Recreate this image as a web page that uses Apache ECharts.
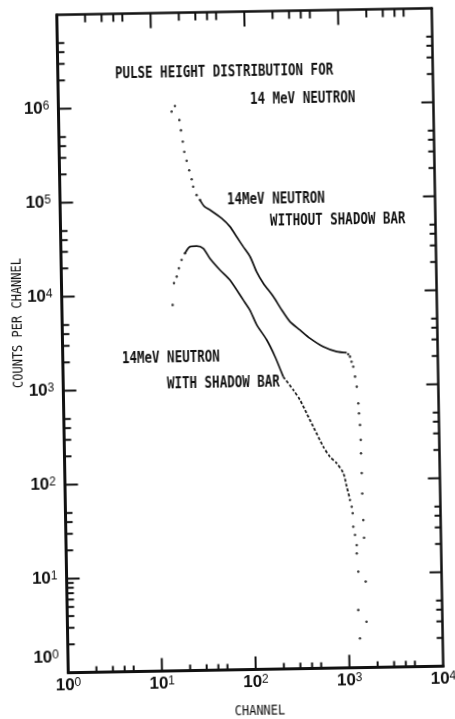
<!DOCTYPE html>
<html>
<head>
<meta charset="utf-8">
<script src="https://cdn.jsdelivr.net/npm/echarts@6/dist/echarts.min.js"></script>
<style>
  html, body { margin: 0; padding: 0; background: #fff; overflow: hidden; }
  /* the scanned figure sits slightly tilted on the page */
  #chart { width: 455px; height: 719px; transform: rotate(-1deg); transform-origin: 250px 341px; }
</style>
</head>
<body>
<div id="chart"></div>
<script>
// ---- axis extents and ticks ----
const xMin = 1, xMax = 10000;
const yMin = 1, yMax = 1e7;
const xMajorTicks = [10, 100, 1000];
const xMinorTicks = [2, 3, 4, 5, 20, 30, 40, 50, 200, 300, 400, 500, 2000, 3000, 4000, 5000];
const yMajorTicks = [10, 100, 1000, 1e4, 1e5, 1e6];
const yMinorTicksLeft = [2, 3, 4, 5, 6, 7, 8, 9, 20, 30, 40, 50, 200, 300, 400, 500,
  2e3, 3e3, 4e3, 5e3, 2e4, 3e4, 4e4, 5e4, 2e5, 3e5, 4e5, 5e5, 2e6, 3e6, 4e6, 5e6];
const yMinorTicksRight = [2, 3, 4, 5, 20, 30, 40, 50, 200, 300, 400, 500,
  2e3, 3e3, 4e3, 5e3, 2e4, 3e4, 4e4, 5e4, 2e5, 3e5, 4e5, 5e5, 2e6, 3e6, 4e6, 5e6];

// ---- 14 MeV neutron, without shadow bar ----
const woHeadChannel = [16.1, 17.5, 19.4, 20.1, 20.9, 21.6, 22.8, 24.2, 25.6, 26.5, 28.7, 31.1];
const woHeadCounts  = [8.9e5, 1.02e6, 7.2e5, 5.6e5, 4.25e5, 3.3e5, 2.65e5, 2.1e5, 1.68e5, 1.4e5, 1.14e5, 1.01e5];
const woBodyChannel = [31.1, 34.5, 39.6, 52.6, 64.3, 75.4, 88.3, 104, 121, 142, 181, 221, 269, 343, 437, 604, 837, 1070];
const woBodyCounts  = [1.01e5, 8.6e4, 7.87e4, 6.38e4, 5.18e4, 4.04e4, 3.15e4, 2.46e4, 1.70e4, 1.28e4, 9.16e3, 6.59e3, 4.93e3, 4.0e3, 3.25e3, 2.63e3, 2.32e3, 2.25e3];
const woTailChannel = [1110, 1158, 1200, 1250, 1300, 1349, 1393, 1410, 1438, 1455, 1456, 1469, 1476, 1497, 1513, 1546, 1550];
const woTailCounts  = [2.16e3, 2.04e3, 1.8e3, 1.59e3, 1.25e3, 973, 648, 507, 381, 264, 190, 117, 71, 37, 24, 8.2, 3.07];

// ---- 14 MeV neutron, with shadow bar ----
const wsHeadChannel = [15.2, 15.85, 17.0, 18.0, 19.3, 21.0];
const wsHeadCounts  = [7.8e3, 1.33e4, 1.56e4, 1.91e4, 2.34e4, 2.75e4];
const wsBodyChannel = [21.0, 23.9, 28.1, 33.0, 38.7, 49.3, 62.8, 86.3, 101, 119, 151, 184, 223];
const wsBodyCounts  = [2.75e4, 3.23e4, 3.27e4, 3.08e4, 2.4e4, 1.8e4, 1.40e4, 8.55e3, 6.67e3, 4.61e3, 3.18e3, 2.1e3, 1.28e3];
const wsRaggedChannel = [223, 284, 333, 390, 456, 579, 679, 798, 935, 1010, 1072];
const wsRaggedCounts  = [1.28e3, 922, 721, 519, 372, 227, 177, 151, 118, 84.5, 66];
const wsTailChannel = [1088, 1132, 1157, 1167, 1213, 1259, 1256, 1295, 1273, 1312];
const wsTailCounts  = [60.9, 51.6, 44, 31.6, 25.8, 20.1, 16.4, 10.5, 4.1, 2.05];

const pairs = (xs, ys) => xs.map((x, i) => [x, ys[i]]);

const ink = '#111';
const monoFont = '"DejaVu Sans Mono", "Liberation Mono", monospace';

function dots(xs, ys) {
  return {
    type: 'scatter', data: pairs(xs, ys), symbol: 'circle', symbolSize: 2.6,
    itemStyle: { color: ink }, silent: true, z: 3
  };
}
function trace(xs, ys, dash) {
  return {
    type: 'line', data: pairs(xs, ys), showSymbol: false, silent: true, z: 3, smooth: 0.25,
    lineStyle: { color: ink, width: 1.7, type: dash || 'solid' }
  };
}
// short tick strokes drawn from the frame inward
function ticks(points, dx, dy, width) {
  return {
    type: 'custom', silent: true, clip: false, z: 6, data: points,
    renderItem: (params, api) => {
      const p = api.coord([api.value(0), api.value(1)]);
      return {
        type: 'line',
        shape: { x1: p[0], y1: p[1], x2: p[0] + dx, y2: p[1] + dy },
        style: { stroke: ink, lineWidth: width }
      };
    }
  };
}

const expOf = v => Math.round(Math.log10(v));
const labelRich = {
  b: { fontFamily: 'Liberation Sans, Arial, sans-serif', fontSize: 17, fontWeight: 'bold', lineHeight: 18, color: ink, verticalAlign: 'middle' },
  s: { fontFamily: 'Liberation Sans, Arial, sans-serif', fontSize: 12, lineHeight: 6, color: ink, verticalAlign: 'top' },
  gap: { fontSize: 10, lineHeight: 30 }
};

function note(text, x, y) {
  return {
    type: 'text', x: x, y: y, scaleY: 1.2, silent: true,
    style: { text: text, font: 'bold 12.5px ' + monoFont, fill: ink, align: 'left', verticalAlign: 'middle' }
  };
}

const chart = echarts.init(document.getElementById('chart'), null, { renderer: 'canvas' });
chart.setOption({
  animation: false,
  backgroundColor: '#fff',
  grid: { left: 62.5, top: 11.5, width: 375, height: 658 },
  xAxis: [
    {
      type: 'log', logBase: 10, min: xMin, max: xMax, position: 'bottom',
      axisLine: { lineStyle: { color: ink, width: 3 } },
      axisTick: { show: false }, splitLine: { show: false },
      axisLabel: { margin: 4, formatter: v => '{b|10}{s|' + expOf(v) + '}', rich: labelRich }
    },
    {
      type: 'log', logBase: 10, min: xMin, max: xMax, position: 'top',
      axisLine: { lineStyle: { color: ink, width: 2.5 } },
      axisTick: { show: false }, splitLine: { show: false }, axisLabel: { show: false }
    }
  ],
  yAxis: [
    {
      type: 'log', logBase: 10, min: yMin, max: yMax, position: 'left',
      axisLine: { lineStyle: { color: ink, width: 3 } },
      axisTick: { show: false }, splitLine: { show: false },
      axisLabel: {
        margin: 9,
        formatter: v => {
          const e = expOf(v);
          if (e >= 7) return '';
          if (e === 0) return '{b|10}{s|0}\n{gap| }';
          return '{b|10}{s|' + e + '}';
        },
        rich: labelRich
      }
    },
    {
      type: 'log', logBase: 10, min: yMin, max: yMax, position: 'right',
      axisLine: { lineStyle: { color: ink, width: 2.5 } },
      axisTick: { show: false }, splitLine: { show: false }, axisLabel: { show: false }
    }
  ],
  series: [
    dots(woHeadChannel, woHeadCounts),
    trace(woBodyChannel, woBodyCounts),
    dots(woTailChannel, woTailCounts),
    dots(wsHeadChannel, wsHeadCounts),
    trace(wsBodyChannel, wsBodyCounts),
    trace(wsRaggedChannel, wsRaggedCounts, [3, 2]),
    dots(wsTailChannel, wsTailCounts),
    // frame ticks
    ticks(xMajorTicks.map(v => [v, yMin]), 0, -13, 2),
    ticks(xMinorTicks.map(v => [v, yMin]), 0, -6, 2),
    ticks(xMajorTicks.map(v => [v, yMax]), 0, 15, 2),
    ticks(xMinorTicks.map(v => [v, yMax]), 0, 8, 2),
    ticks(yMajorTicks.map(v => [xMin, v]), 13, 0, 2),
    ticks(yMinorTicksLeft.map(v => [xMin, v]), 7, 0, 2),
    ticks(yMajorTicks.map(v => [xMax, v]), -12, 0, 2),
    ticks(yMinorTicksRight.map(v => [xMax, v]), -6, 0, 2)
  ],
  graphic: [
    note('PULSE HEIGHT DISTRIBUTION FOR', 119.7, 71.6),
    note('14 MeV NEUTRON', 254.2, 100),
    note('14MeV NEUTRON', 229.5, 199.6),
    note('WITHOUT SHADOW BAR', 272.1, 222.3),
    note('14MeV NEUTRON', 121.7, 356.8),
    note('WITH SHADOW BAR', 166.2, 383.5),
    {
      type: 'text', x: 18.3, y: 319, rotation: Math.PI / 2, scaleY: 1.15, silent: true,
      style: { text: 'COUNTS PER CHANNEL', font: '12px ' + monoFont, fill: ink, align: 'center', verticalAlign: 'middle' }
    },
    {
      type: 'text', x: 253.5, y: 711, scaleY: 1.15, silent: true,
      style: { text: 'CHANNEL', font: '12px ' + monoFont, fill: ink, align: 'center', verticalAlign: 'middle' }
    }
  ]
});
</script>
</body>
</html>
